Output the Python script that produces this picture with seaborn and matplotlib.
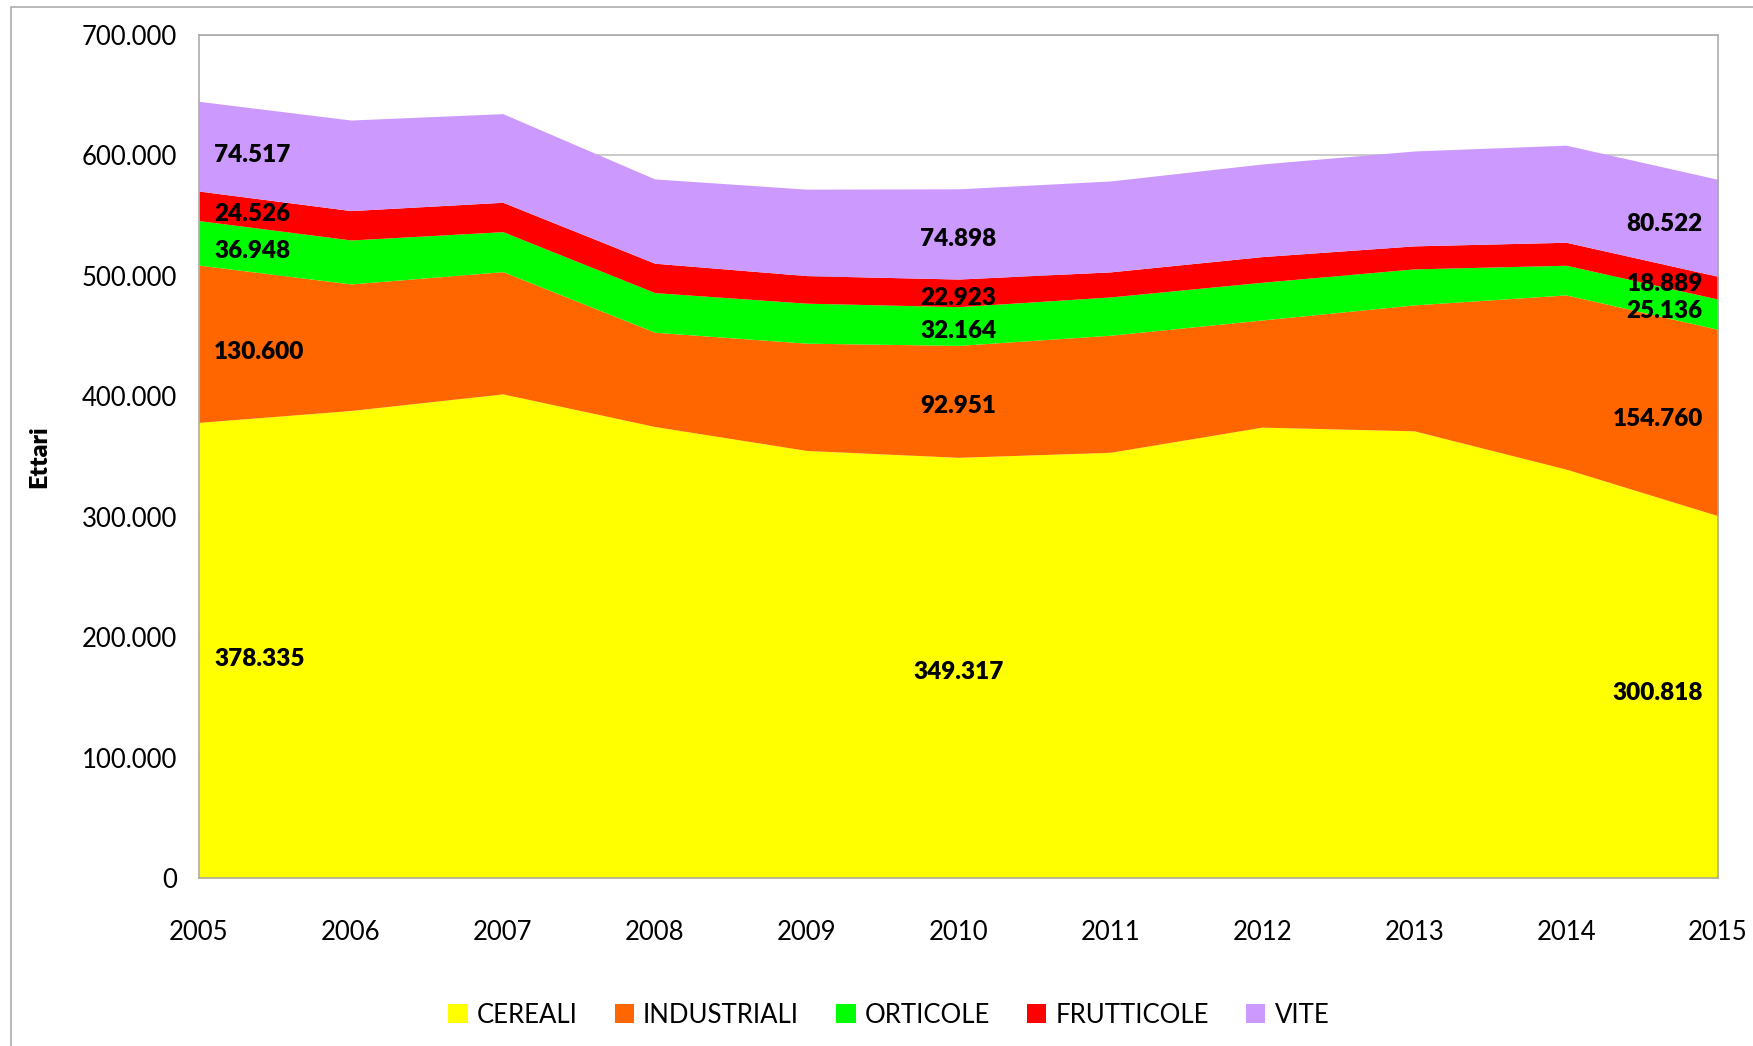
import matplotlib
matplotlib.use("Agg")
import matplotlib.pyplot as plt
import matplotlib.ticker as mticker
from matplotlib.patches import Rectangle, Patch
import numpy as np
import pandas as pd
import seaborn as sns

years = list(range(2005, 2016))

cereali = [378335, 388200, 402000, 374900, 355000, 349317, 353500, 374400, 371300, 339500, 300818]
industriali = [130600, 105100, 101500, 78300, 89100, 92951, 97200, 89000, 104600, 144700, 154760]
orticole = [36948, 36500, 33200, 32900, 33200, 32164, 31800, 31300, 29900, 24600, 25136]
frutticole = [24526, 24400, 24400, 24400, 22900, 22923, 20800, 21300, 19100, 19100, 18889]
vite = [74517, 75200, 73600, 70000, 71800, 74898, 75500, 76900, 78800, 80600, 80522]

series_names = ["CEREALI", "INDUSTRIALI", "ORTICOLE", "FRUTTICOLE", "VITE"]
colors = ["#FFFF00", "#FF6600", "#00FF00", "#FF0000", "#CC99FF"]
label_years = [2005, 2010, 2015]

df = pd.DataFrame({"Anno": years, "CEREALI": cereali, "INDUSTRIALI": industriali,
                   "ORTICOLE": orticole, "FRUTTICOLE": frutticole, "VITE": vite})

sns.set_style("white")
plt.rcParams["font.family"] = ["Lato", "DejaVu Sans"]
plt.rcParams["text.color"] = "black"
plt.rcParams["axes.labelcolor"] = "black"
plt.rcParams["xtick.color"] = "black"
plt.rcParams["ytick.color"] = "black"

fig = plt.figure(figsize=(17.53, 10.46), dpi=100)
ax = fig.add_axes([199 / 1753, 1 - 878 / 1046, 1519 / 1753, 843 / 1046])

ax.stackplot(df["Anno"], [df[c] for c in series_names], colors=colors,
             labels=series_names, linewidth=0, zorder=2)

# data labels near the middle of each band (small nudge per column, like Excel)
nudge = {2005: -7000, 2010: -4000, 2015: 3000}
bottoms = np.zeros(len(years))
for name in series_names:
    vals = df[name].to_numpy()
    for yr in label_years:
        i = years.index(yr)
        mid = bottoms[i] + vals[i] / 2 + nudge[yr]
        txt = f"{vals[i]:,}".replace(",", ".")
        if yr == years[0]:
            x, ha = yr + 0.1, "left"
        elif yr == years[-1]:
            x, ha = yr - 0.1, "right"
        else:
            x, ha = yr, "center"
        ax.text(x, mid, txt, ha=ha, va="center", fontsize=17.5, fontweight="heavy", zorder=5)
    bottoms += vals

ax.set_xlim(2005, 2015)
ax.set_ylim(0, 700000)
ax.set_xticks(years)
ax.set_yticks(np.arange(0, 700001, 100000))
ax.yaxis.set_major_formatter(mticker.FuncFormatter(lambda v, p: f"{int(v):,}".replace(",", ".")))
ax.tick_params(axis="x", length=0, pad=30, labelsize=18.5)
ax.tick_params(axis="y", length=0, pad=16, labelsize=18.5)

ax.grid(axis="y", color="#c6c6c6", linewidth=1.3, zorder=0)
ax.set_axisbelow(True)
for s in ax.spines.values():
    s.set_color("#a6a6a6")
    s.set_linewidth(1.1)
    s.set_zorder(4)

ax.set_xlabel("")
ax.set_ylabel("Ettari", fontsize=18, fontweight="heavy")
ax.yaxis.set_label_coords(-0.098, 0.5)

handles = [Patch(facecolor=c, edgecolor="none") for c in colors]
fig.legend(handles, series_names, loc="center", bbox_to_anchor=(0.507, 0.0296), ncol=5,
           frameon=False, fontsize=18.5, handlelength=0.75, handleheight=0.75,
           handletextpad=0.35, columnspacing=1.45)

# outer chart frame
fig.patches.append(Rectangle((10.7 / 1753, -0.1), 1.2, 1.1 - 7 / 1046, transform=fig.transFigure,
                             fill=False, edgecolor="#a6a6a6", linewidth=1.1))

fig.savefig("out.png", dpi=100)
